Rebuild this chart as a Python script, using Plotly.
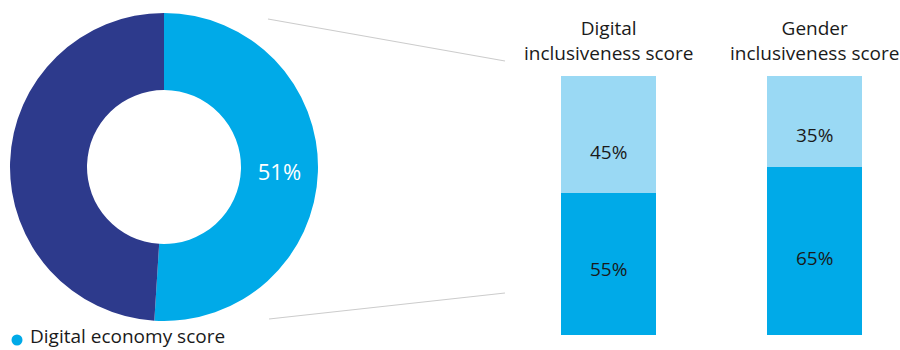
import plotly.graph_objects as go

# Donut: digital economy score
donut_labels = ["Digital economy score", "Other"]
donut_values = [51, 49]
donut_text = ["51%", ""]

# Stacked bars: inclusiveness scores
bar_categories = ["Digital<br>inclusiveness score", "Gender<br>inclusiveness score"]
lower_values = [55, 65]
upper_values = [45, 35]

BLUE = "#00AAE8"
PALE = "#9AD9F4"
NAVY = "#2D3A8C"
TEXT = "#1a1a1a"
FONT = "'Open Sans', 'Noto Sans', sans-serif"

W, H = 900, 350

def px_x(p):
    return p / W

def px_y(p):
    return 1 - p / H

fig = go.Figure()

fig.add_trace(go.Pie(
    labels=donut_labels,
    values=donut_values,
    text=donut_text,
    textinfo="text",
    textposition="inside",
    insidetextorientation="horizontal",
    textfont=dict(color="white", size=22, family=FONT),
    hole=0.5,
    sort=False,
    direction="clockwise",
    rotation=0,
    marker=dict(colors=[BLUE, NAVY], line=dict(width=0)),
    domain=dict(x=[px_x(10), px_x(318)], y=[px_y(321), px_y(13)]),
    showlegend=False,
    hoverinfo="label+value",
))

xs = [0, 1]
fig.add_trace(go.Bar(
    x=xs, y=lower_values, marker=dict(color=BLUE, line=dict(width=0)),
    width=0.461, xaxis="x", yaxis="y", showlegend=False,
    hovertemplate="%{y}%<extra></extra>",
))
fig.add_trace(go.Bar(
    x=xs, y=upper_values, marker=dict(color=PALE, line=dict(width=0)),
    width=0.461, xaxis="x", yaxis="y", showlegend=False,
    hovertemplate="%{y}%<extra></extra>",
))

# Segment value labels, placed inside each stacked segment
for i in range(len(xs)):
    fig.add_annotation(
        x=xs[i], y=lower_values[i] * 0.46, xref="x", yref="y",
        text=f"{lower_values[i]}%", showarrow=False,
        font=dict(size=19, color=TEXT, family=FONT),
    )
    fig.add_annotation(
        x=xs[i], y=lower_values[i] + upper_values[i] * 0.35, xref="x", yref="y",
        text=f"{upper_values[i]}%", showarrow=False,
        font=dict(size=19, color=TEXT, family=FONT),
    )

# Bar column titles
for i, cat in enumerate(bar_categories):
    fig.add_annotation(
        x=xs[i], y=px_y(41), xref="x", yref="paper", yanchor="middle",
        text=cat, showarrow=False, align="center",
        font=dict(size=19, color=TEXT, family=FONT),
    )

# Legend: marker dot and label for the donut's highlighted segment
fig.add_shape(type="circle", xref="paper", yref="paper",
              x0=px_x(11.5), x1=px_x(22.5), y0=px_y(345.5), y1=px_y(334.5),
              fillcolor=BLUE, line=dict(width=0))
fig.add_annotation(
    x=px_x(29), y=0, xref="paper", yref="paper",
    xanchor="left", yanchor="bottom", showarrow=False, borderpad=0,
    text=donut_labels[0],
    font=dict(size=19, color=TEXT, family=FONT),
)

# Connector lines from donut to bars
fig.add_shape(type="line", xref="paper", yref="paper",
              x0=px_x(268), y0=px_y(19), x1=px_x(505), y1=px_y(61),
              line=dict(color="#cccccc", width=1.2))
fig.add_shape(type="line", xref="paper", yref="paper",
              x0=px_x(269), y0=px_y(319), x1=px_x(505), y1=px_y(293),
              line=dict(color="#cccccc", width=1.2))

fig.update_layout(
    width=W, height=H,
    margin=dict(l=0, r=0, t=0, b=0),
    paper_bgcolor="white", plot_bgcolor="white",
    barmode="stack",
    bargap=0,
    showlegend=False,
    font=dict(family=FONT),
    xaxis=dict(domain=[px_x(526.1), px_x(896.9)], range=[-0.4, 1.4],
               visible=False, fixedrange=True),
    yaxis=dict(domain=[px_y(335), px_y(76)], range=[0, 100],
               visible=False, fixedrange=True),
)

fig.write_html("out.html")
